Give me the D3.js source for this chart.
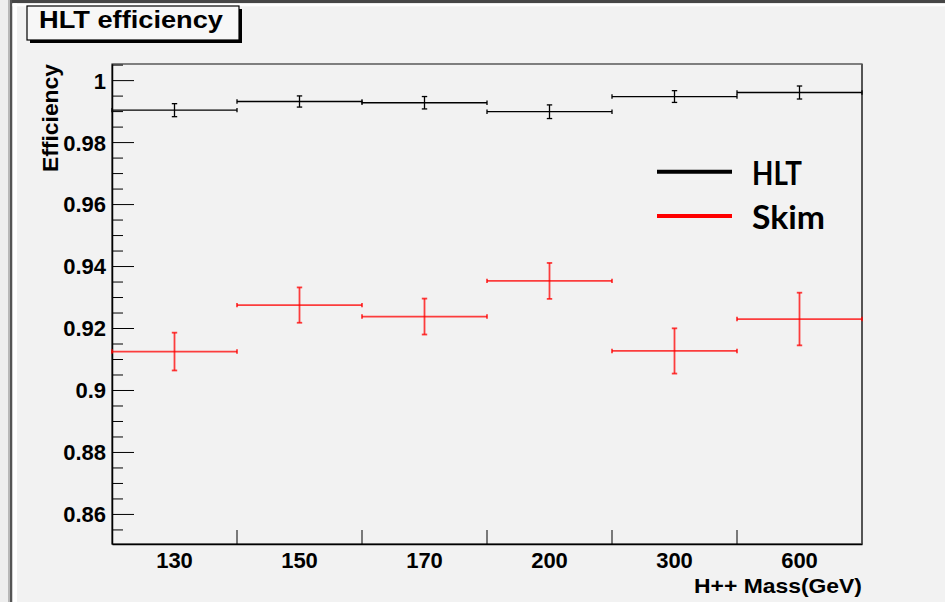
<!DOCTYPE html>
<html><head><meta charset="utf-8">
<script src="https://cdn.jsdelivr.net/npm/d3@7"></script>
<style>
html,body{margin:0;padding:0;background:#f2f2f2;}
svg{display:block;}
</style></head>
<body>
<svg id="c" width="945" height="602"></svg>
<script>
// ---- data ----
const masses = ["130", "150", "170", "200", "300", "600"];
const hltEff = [0.9903, 0.9931, 0.9927, 0.9898, 0.9947, 0.9960];
const hltErr = [0.0021, 0.0018, 0.0020, 0.0022, 0.0019, 0.0021];
const skimEff = [0.9124, 0.9274, 0.9237, 0.9352, 0.9126, 0.9229];
const skimErr = [0.0061, 0.0057, 0.0058, 0.0058, 0.0073, 0.0085];
const yMajorTicks = [0.86, 0.88, 0.9, 0.92, 0.94, 0.96, 0.98, 1];
const yTickLabels = ["0.86", "0.88", "0.9", "0.92", "0.94", "0.96", "0.98", "1"];
const seriesNames = ["HLT", "Skim"];
const seriesColors = ["#000000", "#ff0000"];

const svg = d3.select("#c");
const W = 945, H = 602;
const L = 112, R = 862, T = 64, B = 544;
const font = "'Liberation Sans', Arial, Helvetica, sans-serif";

// background
svg.append("rect").attr("x", 0).attr("y", 0).attr("width", W).attr("height", H).attr("fill", "#f2f2f2");
// window frame decoration
svg.append("rect").attr("x", 0).attr("y", 0).attr("width", 9).attr("height", H).attr("fill", "#eeeeee");
svg.append("rect").attr("x", 8).attr("y", 0).attr("width", 2).attr("height", H).attr("fill", "#b8b8b8");
svg.append("rect").attr("x", 10).attr("y", 0).attr("width", 2.5).attr("height", H).attr("fill", "#555555");
svg.append("rect").attr("x", 12).attr("y", 0).attr("width", W - 12).attr("height", 3.3).attr("fill", "#464646");
svg.append("rect").attr("x", 12.5).attr("y", 3.3).attr("width", W - 12).attr("height", 3).attr("fill", "#ffffff");
svg.append("rect").attr("x", 12.5).attr("y", 3.3).attr("width", 4.5).attr("height", H).attr("fill", "#ffffff");

// scales
const x = d3.scaleBand().domain(masses).range([L, R]).padding(0);
const y = d3.scaleLinear().domain([0.8503, 1.0052]).range([B, T]);

// frame
svg.append("rect").attr("x", L).attr("y", T).attr("width", R - L).attr("height", B - T)
  .attr("fill", "#f2f2f2").attr("stroke", "#333").attr("stroke-width", 1.2);
svg.append("line").attr("x1", R).attr("x2", R).attr("y1", T).attr("y2", B).attr("stroke", "#555").attr("stroke-width", 2);

// y axis
const yAxis = d3.axisLeft(y).tickValues(yMajorTicks)
  .tickFormat((d, i) => yTickLabels[i]).tickSizeInner(-22).tickSizeOuter(0).tickPadding(6);
const gy = svg.append("g").attr("transform", `translate(${L},0)`).call(yAxis);
gy.select(".domain").attr("stroke", "#000").attr("stroke-width", 1.5);
gy.selectAll(".tick line").attr("stroke", "#000").attr("stroke-width", 1);
gy.selectAll(".tick text").attr("font-family", font).attr("font-weight", "bold")
  .attr("font-size", 22).attr("fill", "#000").attr("dy", "0.36em");
// minor ticks
const minor = d3.range(0.855, 1.0051, 0.005).filter(v => !yMajorTicks.some(m => Math.abs(m - v) < 1e-6));
const yMinor = d3.axisLeft(y).tickValues(minor).tickFormat("").tickSizeInner(-11).tickSizeOuter(0);
const gym = svg.append("g").attr("transform", `translate(${L},0)`).call(yMinor);
gym.select(".domain").remove();
gym.selectAll(".tick line").attr("stroke", "#000").attr("stroke-width", 1);

// x axis labels
const xAxis = d3.axisBottom(x).tickSize(0).tickPadding(8);
const gx = svg.append("g").attr("transform", `translate(0,${B})`).call(xAxis);
gx.select(".domain").attr("stroke", "#000").attr("stroke-width", 1.5);
gx.selectAll(".tick text").attr("font-family", font).attr("font-weight", "bold")
  .attr("font-size", 22).attr("fill", "#000");
// x ticks at bin edges
svg.append("g").selectAll("line").data(masses.slice(1)).join("line")
  .attr("x1", d => x(d)).attr("x2", d => x(d)).attr("y1", B).attr("y2", B - 14)
  .attr("stroke", "#000").attr("stroke-width", 1);

// axis titles
svg.append("text").attr("x", R).attr("y", 593).attr("text-anchor", "end")
  .attr("font-family", font).attr("font-weight", "bold").attr("font-size", 21)
  .attr("textLength", 168).attr("lengthAdjust", "spacingAndGlyphs")
  .text("H++ Mass(GeV)");
svg.append("text").attr("transform", `translate(58,${T + 108}) rotate(-90)`).attr("text-anchor", "start")
  .attr("font-family", font).attr("font-weight", "bold").attr("font-size", 22)
  .attr("textLength", 108).attr("lengthAdjust", "spacingAndGlyphs")
  .text("Efficiency");

// series
function drawSeries(vals, errs, color, width) {
  const g = svg.append("g").attr("stroke", color).attr("stroke-width", width).attr("fill", "none");
  masses.forEach((m, i) => {
    const x0 = x(m), x1 = x(m) + x.bandwidth(), xc = x(m) + x.bandwidth() / 2;
    const yv = y(vals[i]), yt = y(vals[i] + errs[i]), yb = y(vals[i] - errs[i]);
    g.append("line").attr("x1", x0).attr("x2", x1).attr("y1", yv).attr("y2", yv);
    g.append("line").attr("x1", x0).attr("x2", x0).attr("y1", yv - 2.2).attr("y2", yv + 2.2);
    g.append("line").attr("x1", x1).attr("x2", x1).attr("y1", yv - 2.2).attr("y2", yv + 2.2);
    g.append("line").attr("x1", xc).attr("x2", xc).attr("y1", yt).attr("y2", yb);
    g.append("line").attr("x1", xc - 2.7).attr("x2", xc + 2.7).attr("y1", yt).attr("y2", yt);
    g.append("line").attr("x1", xc - 2.7).attr("x2", xc + 2.7).attr("y1", yb).attr("y2", yb);
  });
}
drawSeries(hltEff, hltErr, seriesColors[0], 1.3);
drawSeries(skimEff, skimErr, "rgba(255,0,0,0.75)", 1.8);

// legend
const legY = [171.7, 216];
const legBase = [185, 229];
const legLen = [50, 73];
seriesNames.forEach((n, i) => {
  svg.append("line").attr("x1", 657).attr("x2", 732).attr("y1", legY[i]).attr("y2", legY[i])
    .attr("stroke", seriesColors[i]).attr("stroke-width", 4);
  svg.append("text").attr("x", 752).attr("y", legBase[i])
    .attr("font-family", "Lato, 'Open Sans', sans-serif").attr("font-weight", "bold")
    .attr("font-size", 32).attr("fill", "#000")
    .attr("textLength", legLen[i]).attr("lengthAdjust", "spacingAndGlyphs").text(n);
});

// title box
svg.append("rect").attr("x", 30).attr("y", 9).attr("width", 212).attr("height", 34).attr("fill", "#000");
svg.append("rect").attr("x", 27).attr("y", 6).attr("width", 212).attr("height", 34)
  .attr("fill", "#f7f7f7").attr("stroke", "#000").attr("stroke-width", 1.2);
svg.append("text").attr("x", 39).attr("y", 28)
  .attr("font-family", font).attr("font-weight", "bold").attr("font-size", 24)
  .attr("textLength", 184).attr("lengthAdjust", "spacingAndGlyphs")
  .text("HLT efficiency");
</script>
</body></html>
